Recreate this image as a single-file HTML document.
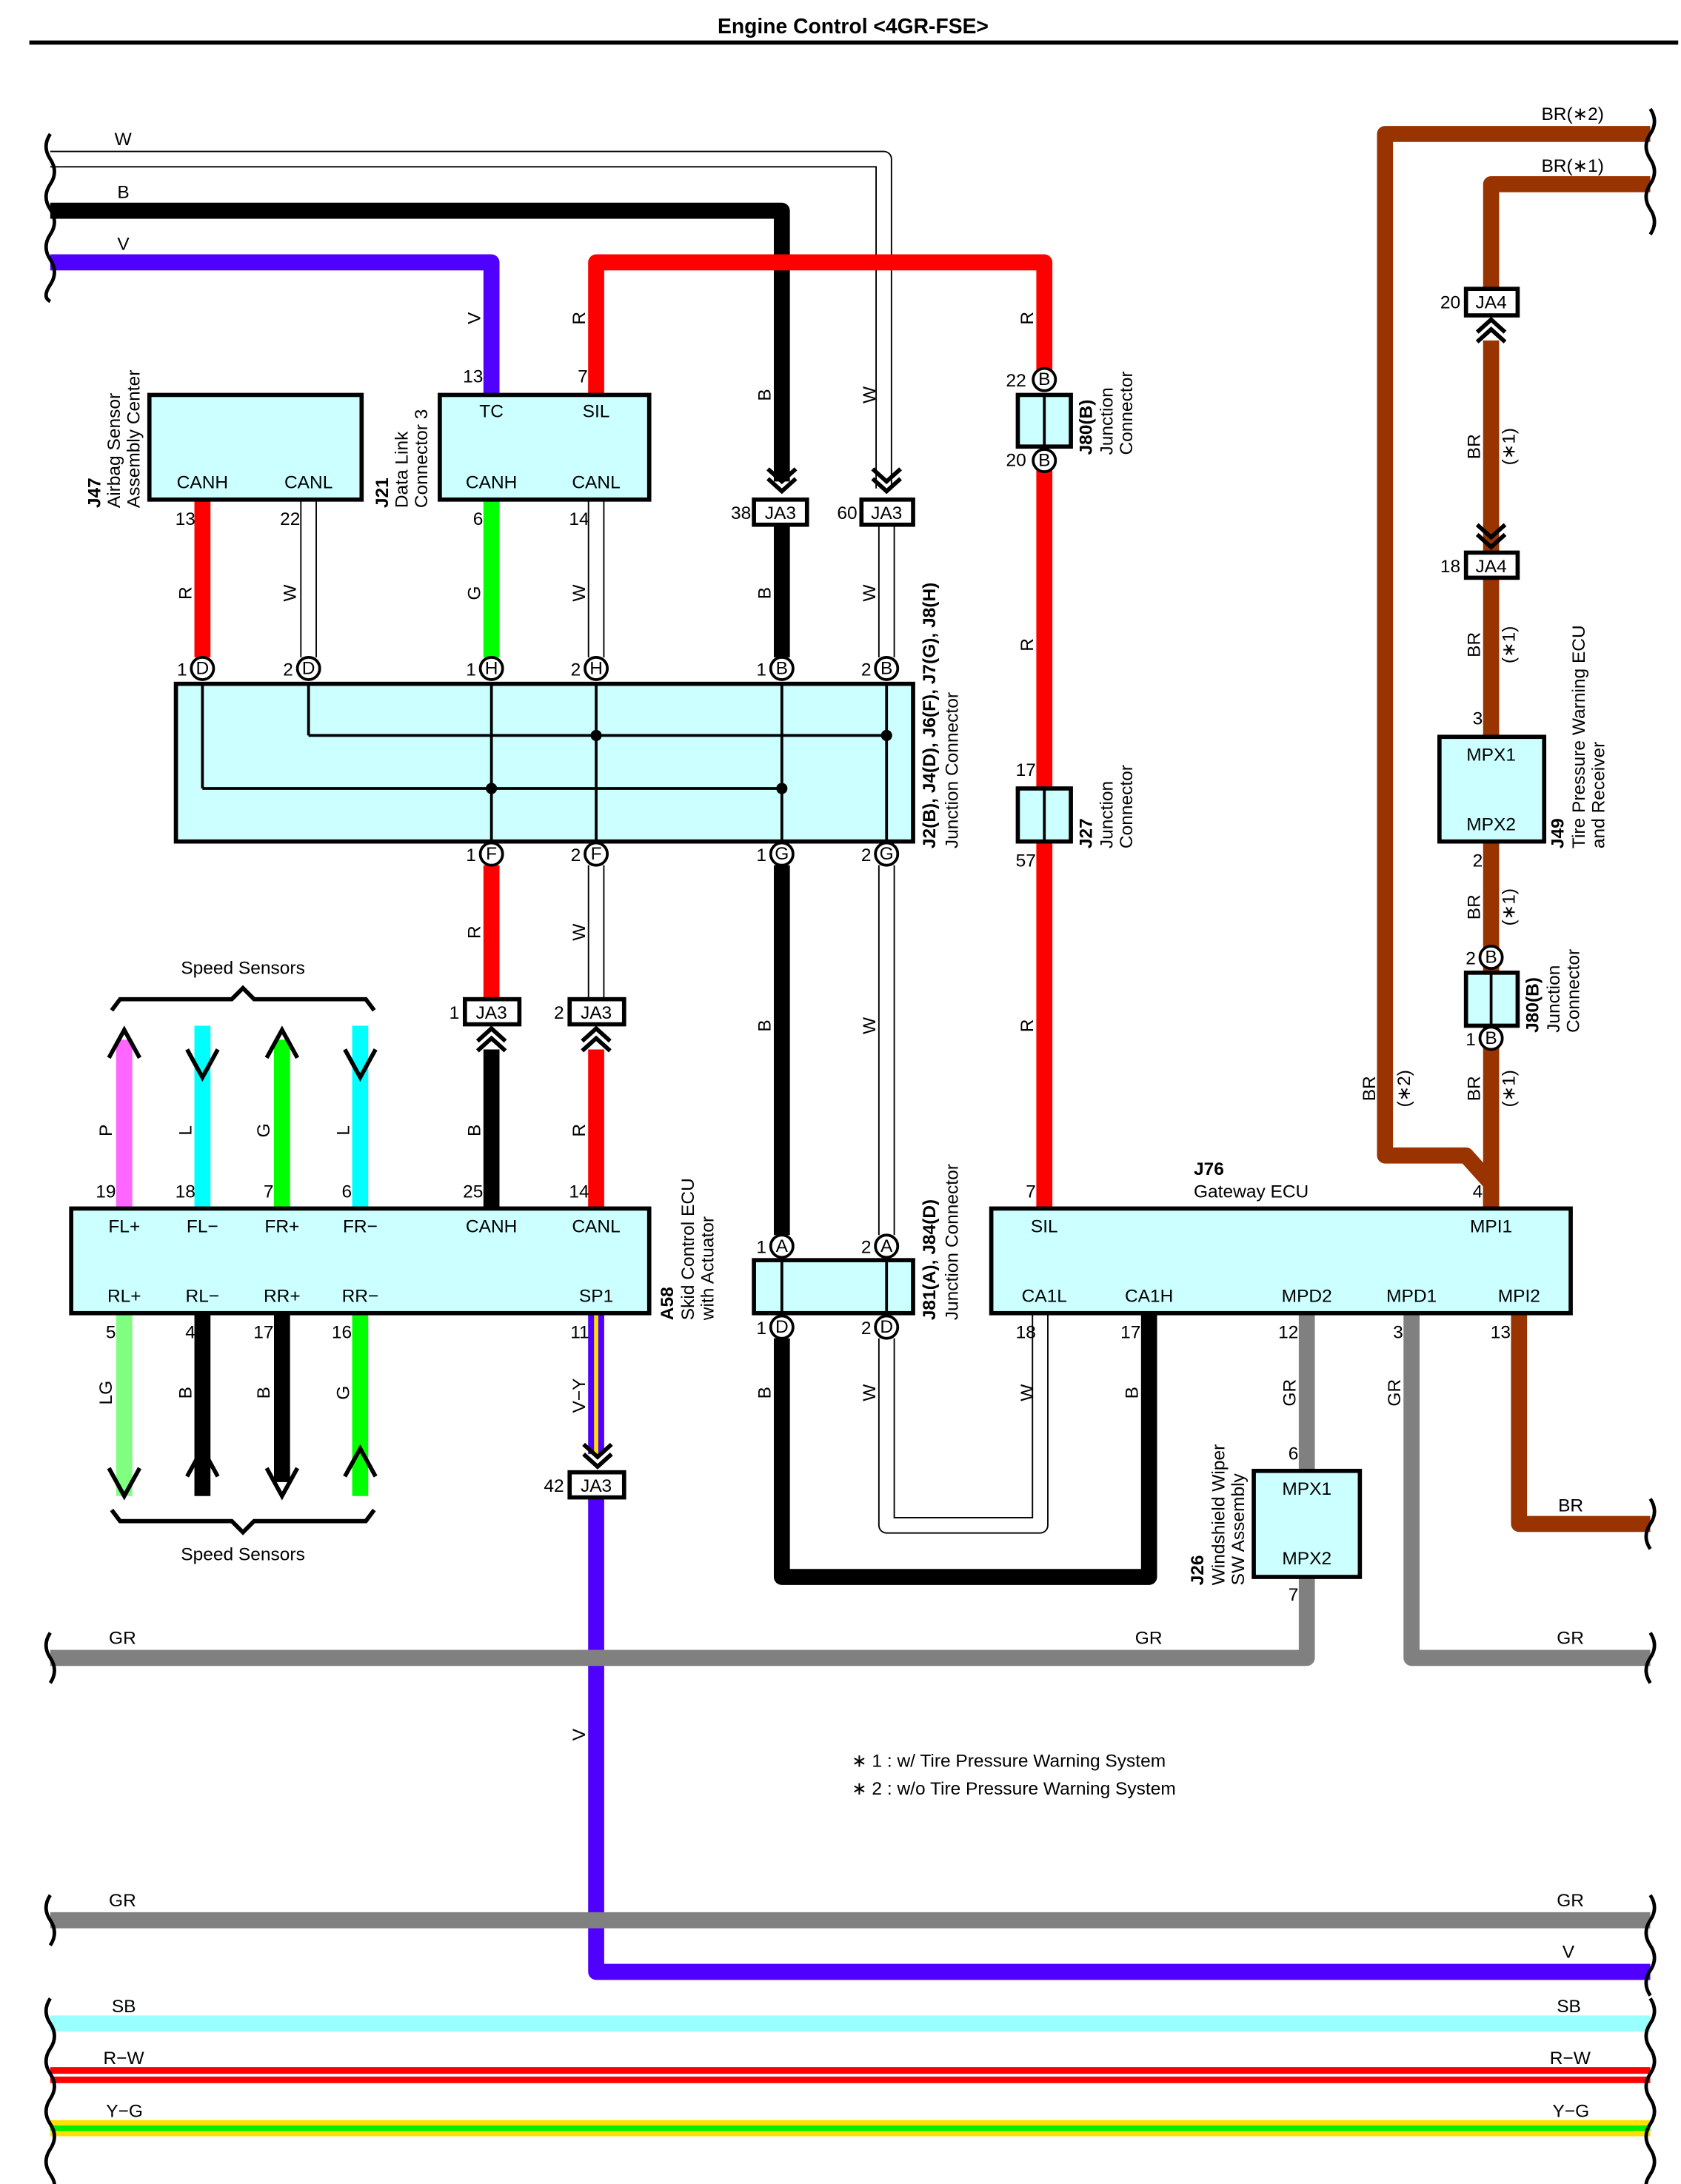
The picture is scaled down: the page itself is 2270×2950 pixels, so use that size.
<!DOCTYPE html>
<html><head><meta charset="utf-8"><style>
html,body{margin:0;padding:0;background:#fff}
svg{display:block}
text{font-family:"Liberation Sans",Arial,sans-serif;font-size:13px;fill:#000}
.c{text-anchor:middle}
.e{text-anchor:end}
.b{font-weight:bold}
</style></head><body>
<svg width="2270" height="2950" viewBox="0 0 1204 1565" preserveAspectRatio="none" xmlns="http://www.w3.org/2000/svg">
<rect width="1204" height="1565" fill="#fff"/>
<text x="611" y="24" class="c b" style="font-size:15px">Engine Control &lt;4GR-FSE&gt;</text>
<rect x="21" y="29" width="1181" height="3" fill="#000"/>

<g fill="none" stroke-linejoin="round">
<path d="M36 114 H633 V350" stroke="#000" stroke-width="12"/>
<path d="M36 114 H633 V350" stroke="#fff" stroke-width="10"/>
<path d="M36 151 H560 V345" stroke="#000" stroke-width="11.5"/>
<path d="M36 188 H352 V283" stroke="#5000ff" stroke-width="11.5"/>
<path d="M427 283 V188 H748 V272" stroke="#f00" stroke-width="11.5"/>
<path d="M1182 96 H992 V828 H1050 L1068 848 V866" stroke="#993300" stroke-width="11.5"/>
<path d="M1182 132 H1068 V207" stroke="#993300" stroke-width="11.5"/>
<path d="M1068 244 V396 M1068 414 V528 M1068 603 V866" stroke="#993300" stroke-width="11.5"/>

<path d="M145 358 V471" stroke="#f00" stroke-width="11.5"/>
<path d="M221 358 V471" stroke="#000" stroke-width="12"/><path d="M221 358 V471" stroke="#fff" stroke-width="10"/>
<path d="M352 358 V471" stroke="#0f0" stroke-width="11.5"/>
<path d="M427 358 V471" stroke="#000" stroke-width="12"/><path d="M427 358 V471" stroke="#fff" stroke-width="10"/>
<path d="M560 376 V471" stroke="#000" stroke-width="11.5"/>
<path d="M635 376 V471" stroke="#000" stroke-width="12"/><path d="M635 376 V471" stroke="#fff" stroke-width="10"/>

<path d="M748 330 V866" stroke="#f00" stroke-width="11.5"/>

<path d="M352 620 V716" stroke="#f00" stroke-width="11.5"/>
<path d="M427 620 V716" stroke="#000" stroke-width="12"/><path d="M427 620 V716" stroke="#fff" stroke-width="10"/>
<path d="M352 752 V866" stroke="#000" stroke-width="11.5"/>
<path d="M427 752 V866" stroke="#f00" stroke-width="11.5"/>
<path d="M560 620 V885" stroke="#000" stroke-width="11.5"/>
<path d="M635 620 V885" stroke="#000" stroke-width="12"/><path d="M635 620 V885" stroke="#fff" stroke-width="10"/>

<path d="M560 959 V1130 H823 V941" stroke="#000" stroke-width="11.5"/>
<path d="M635 959 V1093 H745 V941" stroke="#000" stroke-width="12"/>
<path d="M635 959 V1093 H745 V941" stroke="#fff" stroke-width="10"/>

<path d="M89 866 V745" stroke="#ff66ff" stroke-width="11.5"/>
<path d="M145 866 V735" stroke="#0ff" stroke-width="11.5"/>
<path d="M202 866 V745" stroke="#0f0" stroke-width="11.5"/>
<path d="M258 866 V735" stroke="#0ff" stroke-width="11.5"/>
<path d="M89 941 V1072" stroke="#80ff80" stroke-width="11.5"/>
<path d="M145 941 V1072" stroke="#000" stroke-width="11.5"/>
<path d="M202 941 V1062" stroke="#000" stroke-width="11.5"/>
<path d="M258 941 V1072" stroke="#0f0" stroke-width="11.5"/>

<path d="M427 941 V1042" stroke="#5000ff" stroke-width="11.5"/>
<path d="M427 941 V1042" stroke="#ffdd00" stroke-width="3"/>
<path d="M427 1073 V1413 H1182" stroke="#5000ff" stroke-width="11.5"/>

<path d="M936 941 V1054" stroke="#808080" stroke-width="11.5"/>
<path d="M936 1130 V1188 H36" stroke="#808080" stroke-width="11.5"/>
<path d="M1011 941 V1188 H1182" stroke="#808080" stroke-width="11.5"/>
<path d="M1088 941 V1092 H1182" stroke="#993300" stroke-width="11.5"/>

<path d="M36 1376 H1182" stroke="#808080" stroke-width="11.5"/>
<path d="M36 1450 H1182" stroke="#99ffff" stroke-width="11.5"/>
<path d="M36 1487 H1182" stroke="#f00" stroke-width="11.5"/>
<path d="M36 1487 H1182" stroke="#fff" stroke-width="2"/>
<path d="M36 1525 H1182" stroke="#ffe000" stroke-width="11.5"/>
<path d="M36 1525 H1182" stroke="#00ee00" stroke-width="4"/>
</g>

<g fill="none" stroke="#000" stroke-width="2.5">
<path d="M36 96 q-6 9 0 18 q6 9 0 18 q-6 9 0 18 q6 9 0 18 q-6 9 0 18 q6 9 0 18 q-6 9 0 12"/>
<path d="M1182 78 q6 9 0 18 q-6 9 0 18 q6 9 0 18 q-6 9 0 18 q6 9 0 18"/>
<path d="M1182 1074 q6 9 0 18 q-6 9 0 18"/>
<path d="M1182 1170 q6 9 0 18 q-6 9 0 18"/>
<path d="M36 1170 q-6 9 0 18 q6 9 0 18"/>
<path d="M36 1358 q-6 9 0 18 q6 9 0 18"/>
<path d="M1182 1358 q6 9 0 18 q-6 9 0 18 q6 9 0 18 q-6 9 0 18"/>
<path d="M36 1432 q-6 9 0 18 q6 9 0 18 q-6 9 0 18 q6 9 0 18 q-6 9 0 18 q6 9 0 18 q-6 9 0 18 q6 9 0 12"/>
<path d="M1182 1432 q6 9 0 18 q-6 9 0 18 q6 9 0 18 q-6 9 0 18 q6 9 0 18 q-6 9 0 18 q6 9 0 18 q-6 9 0 12"/>
</g>

<g stroke="#000" stroke-width="3" fill="#ccffff">
<rect x="107" y="283" width="152" height="75"/>
<rect x="315" y="283" width="150" height="75"/>
<rect x="126" y="490" width="528" height="113"/>
<rect x="51" y="866" width="414" height="75"/>
<rect x="540" y="903" width="114" height="38"/>
<rect x="710" y="866" width="415" height="75"/>
<rect x="1031" y="528" width="75" height="75"/>
<rect x="898" y="1054" width="76" height="76"/>
<rect x="729" y="283" width="38" height="37"/>
<rect x="729" y="565" width="38" height="38"/>
<rect x="1050" y="697" width="37" height="38"/>
</g>
<g stroke="#000" stroke-width="2">
<line x1="748" y1="283" x2="748" y2="320"/>
<line x1="748" y1="565" x2="748" y2="603"/>
<line x1="1068" y1="697" x2="1068" y2="735"/>
<line x1="560" y1="903" x2="560" y2="941"/>
<line x1="635" y1="903" x2="635" y2="941"/>
<line x1="145" y1="490" x2="145" y2="565"/>
<line x1="221" y1="490" x2="221" y2="527"/>
<line x1="352" y1="490" x2="352" y2="603"/>
<line x1="427" y1="490" x2="427" y2="603"/>
<line x1="560" y1="490" x2="560" y2="603"/>
<line x1="635" y1="490" x2="635" y2="603"/>
<line x1="221" y1="527" x2="635" y2="527"/>
<line x1="145" y1="565" x2="560" y2="565"/>
</g>
<g fill="#000">
<circle cx="427" cy="527" r="4"/><circle cx="635" cy="527" r="4"/>
<circle cx="352" cy="565" r="4"/><circle cx="560" cy="565" r="4"/>
</g>

<g stroke="#000" stroke-width="3" fill="#fff">
<rect x="540" y="358" width="38" height="18"/>
<rect x="617" y="358" width="37" height="18"/>
<rect x="333" y="716" width="39" height="18"/>
<rect x="408" y="716" width="39" height="18"/>
<rect x="408" y="1055" width="39" height="18"/>
<rect x="1050" y="207" width="37" height="19"/>
<rect x="1050" y="396" width="37" height="18"/>
</g>
<g class="c" style="font-size:12px">
<text x="559" y="372" class="c">JA3</text><text x="635" y="372" class="c">JA3</text>
<text x="352" y="730" class="c">JA3</text><text x="427" y="730" class="c">JA3</text>
<text x="427" y="1069" class="c">JA3</text>
<text x="1068" y="221" class="c">JA4</text><text x="1068" y="410" class="c">JA4</text>
</g>

<g fill="none" stroke="#000" stroke-width="3">
<path d="M550 336 l10 9 l10 -9 M550 343 l10 9 l10 -9"/>
<path d="M625 336 l10 9 l10 -9 M625 343 l10 9 l10 -9"/>
<path d="M418 1035 l10 9 l10 -9 M418 1042 l10 9 l10 -9"/>
<path d="M1058 376 l10 9 l10 -9 M1058 383 l10 9 l10 -9"/>
<path d="M342 746 l10 -9 l10 9 M342 753 l10 -9 l10 9"/>
<path d="M417 746 l10 -9 l10 9 M417 753 l10 -9 l10 9"/>
<path d="M1058 238 l10 -9 l10 9 M1058 245 l10 -9 l10 9"/>
<path d="M78 758 l11 -20 l11 20"/>
<path d="M134 752 l11 20 l11 -20"/>
<path d="M191 758 l11 -20 l11 20"/>
<path d="M247 752 l11 20 l11 -20"/>
<path d="M78 1052 l11 20 l11 -20"/>
<path d="M134 1058 l11 -20 l11 20"/>
<path d="M191 1052 l11 20 l11 -20"/>
<path d="M247 1058 l11 -20 l11 20"/>
<path d="M80 724 l6 -8 H166 l8 -8 l8 8 H262 l6 8"/>
<path d="M80 1082 l6 8 H166 l8 8 l8 -8 H262 l6 -8"/>
</g>

<g stroke="#000" stroke-width="2" fill="#fff">
<circle cx="145" cy="479" r="8"/><circle cx="221" cy="479" r="8"/>
<circle cx="352" cy="479" r="8"/><circle cx="427" cy="479" r="8"/>
<circle cx="560" cy="479" r="8"/><circle cx="635" cy="479" r="8"/>
<circle cx="352" cy="612" r="8"/><circle cx="427" cy="612" r="8"/>
<circle cx="560" cy="612" r="8"/><circle cx="635" cy="612" r="8"/>
<circle cx="560" cy="893" r="8"/><circle cx="635" cy="893" r="8"/>
<circle cx="560" cy="951" r="8"/><circle cx="635" cy="951" r="8"/>
<circle cx="748" cy="272" r="8"/><circle cx="748" cy="330" r="8"/>
<circle cx="1068" cy="686" r="8"/><circle cx="1068" cy="744" r="8"/>
</g>
<g class="c" style="font-size:11px">
<text x="145" y="483" class="c">D</text><text x="221" y="483" class="c">D</text>
<text x="352" y="483" class="c">H</text><text x="427" y="483" class="c">H</text>
<text x="560" y="483" class="c">B</text><text x="635" y="483" class="c">B</text>
<text x="352" y="616" class="c">F</text><text x="427" y="616" class="c">F</text>
<text x="560" y="616" class="c">G</text><text x="635" y="616" class="c">G</text>
<text x="560" y="897" class="c">A</text><text x="635" y="897" class="c">A</text>
<text x="560" y="955" class="c">D</text><text x="635" y="955" class="c">D</text>
<text x="748" y="276" class="c">B</text><text x="748" y="334" class="c">B</text>
<text x="1068" y="690" class="c">B</text><text x="1068" y="748" class="c">B</text>
</g>

<g class="e" style="font-size:12px">
<text x="134" y="484" class="e">1</text><text x="210" y="484" class="e">2</text>
<text x="341" y="484" class="e">1</text><text x="416" y="484" class="e">2</text>
<text x="549" y="484" class="e">1</text><text x="624" y="484" class="e">2</text>
<text x="341" y="617" class="e">1</text><text x="416" y="617" class="e">2</text>
<text x="549" y="617" class="e">1</text><text x="624" y="617" class="e">2</text>
<text x="549" y="898" class="e">1</text><text x="624" y="898" class="e">2</text>
<text x="549" y="956" class="e">1</text><text x="624" y="956" class="e">2</text>
<text x="735" y="277" class="e">22</text><text x="735" y="334" class="e">20</text>
<text x="742" y="556" class="e">17</text><text x="742" y="621" class="e">57</text>
<text x="1057" y="691" class="e">2</text><text x="1057" y="749" class="e">1</text>
<text x="538" y="372" class="e">38</text><text x="614" y="372" class="e">60</text>
<text x="329" y="730" class="e">1</text><text x="404" y="730" class="e">2</text>
<text x="404" y="1069" class="e">42</text>
<text x="1046" y="221" class="e">20</text><text x="1046" y="410" class="e">18</text>
<text x="346" y="274" class="e">13</text><text x="421" y="274" class="e">7</text>
<text x="140" y="376" class="e">13</text><text x="215" y="376" class="e">22</text>
<text x="346" y="376" class="e">6</text><text x="422" y="376" class="e">14</text>
<text x="83" y="858" class="e">19</text><text x="140" y="858" class="e">18</text>
<text x="196" y="858" class="e">7</text><text x="252" y="858" class="e">6</text>
<text x="346" y="858" class="e">25</text><text x="422" y="858" class="e">14</text>
<text x="83" y="959" class="e">5</text><text x="140" y="959" class="e">4</text>
<text x="196" y="959" class="e">17</text><text x="252" y="959" class="e">16</text>
<text x="422" y="959" class="e">11</text>
<text x="742" y="858" class="e">7</text><text x="1062" y="858" class="e">4</text>
<text x="742" y="959" class="e">18</text><text x="817" y="959" class="e">17</text>
<text x="930" y="959" class="e">12</text><text x="1005" y="959" class="e">3</text>
<text x="1082" y="959" class="e">13</text>
<text x="1062" y="519" class="e">3</text><text x="1062" y="621" class="e">2</text>
<text x="930" y="1046" class="e">6</text><text x="930" y="1147" class="e">7</text>
</g>

<g style="font-size:13px">
<text x="145" y="350" class="c">CANH</text><text x="221" y="350" class="c">CANL</text>
<text x="352" y="299" class="c">TC</text><text x="427" y="299" class="c">SIL</text>
<text x="352" y="350" class="c">CANH</text><text x="427" y="350" class="c">CANL</text>
<text x="89" y="883" class="c">FL+</text><text x="145" y="883" class="c">FL−</text>
<text x="202" y="883" class="c">FR+</text><text x="258" y="883" class="c">FR−</text>
<text x="352" y="883" class="c">CANH</text><text x="427" y="883" class="c">CANL</text>
<text x="89" y="933" class="c">RL+</text><text x="145" y="933" class="c">RL−</text>
<text x="202" y="933" class="c">RR+</text><text x="258" y="933" class="c">RR−</text>
<text x="427" y="933" class="c">SP1</text>
<text x="748" y="883" class="c">SIL</text><text x="1068" y="883" class="c">MPI1</text>
<text x="748" y="933" class="c">CA1L</text><text x="823" y="933" class="c">CA1H</text>
<text x="936" y="933" class="c">MPD2</text><text x="1011" y="933" class="c">MPD1</text>
<text x="1088" y="933" class="c">MPI2</text>
<text x="1068" y="545" class="c">MPX1</text><text x="1068" y="595" class="c">MPX2</text>
<text x="936" y="1071" class="c">MPX1</text><text x="936" y="1121" class="c">MPX2</text>
<text x="855" y="842" class="b">J76</text><text x="855" y="858">Gateway ECU</text>
<text x="174" y="698" class="c">Speed Sensors</text>
<text x="174" y="1118" class="c">Speed Sensors</text>
<text x="610" y="1266">∗ 1 : w/ Tire Pressure Warning System</text>
<text x="610" y="1286">∗ 2 : w/o Tire Pressure Warning System</text>
</g>

<g style="font-size:13px">
<text x="82" y="104">W</text><text x="84" y="142">B</text><text x="84" y="179">V</text>
<text x="1104" y="86">BR(∗2)</text><text x="1104" y="123">BR(∗1)</text>
<text x="1116" y="1083">BR</text>
<text x="78" y="1178">GR</text><text x="813" y="1178">GR</text><text x="1115" y="1178">GR</text>
<text x="78" y="1366">GR</text><text x="1115" y="1366">GR</text>
<text x="1119" y="1403">V</text>
<text x="80" y="1442">SB</text><text x="1115" y="1442">SB</text>
<text x="74" y="1479">R−W</text><text x="1110" y="1479">R−W</text>
<text x="76" y="1517">Y−G</text><text x="1112" y="1517">Y−G</text>
</g>

<g style="font-size:13px">
<text transform="translate(344,228) rotate(-90)" class="c">V</text>
<text transform="translate(419,228) rotate(-90)" class="c">R</text>
<text transform="translate(552,283) rotate(-90)" class="c">B</text>
<text transform="translate(627,283) rotate(-90)" class="c">W</text>
<text transform="translate(740,228) rotate(-90)" class="c">R</text>
<text transform="translate(137,425) rotate(-90)" class="c">R</text>
<text transform="translate(212,425) rotate(-90)" class="c">W</text>
<text transform="translate(344,425) rotate(-90)" class="c">G</text>
<text transform="translate(419,425) rotate(-90)" class="c">W</text>
<text transform="translate(552,425) rotate(-90)" class="c">B</text>
<text transform="translate(627,425) rotate(-90)" class="c">W</text>
<text transform="translate(740,462) rotate(-90)" class="c">R</text>
<text transform="translate(344,668) rotate(-90)" class="c">R</text>
<text transform="translate(419,668) rotate(-90)" class="c">W</text>
<text transform="translate(552,735) rotate(-90)" class="c">B</text>
<text transform="translate(627,735) rotate(-90)" class="c">W</text>
<text transform="translate(740,735) rotate(-90)" class="c">R</text>
<text transform="translate(344,810) rotate(-90)" class="c">B</text>
<text transform="translate(419,810) rotate(-90)" class="c">R</text>
<text transform="translate(80,810) rotate(-90)" class="c">P</text>
<text transform="translate(137,810) rotate(-90)" class="c">L</text>
<text transform="translate(193,810) rotate(-90)" class="c">G</text>
<text transform="translate(250,810) rotate(-90)" class="c">L</text>
<text transform="translate(80,998) rotate(-90)" class="c">LG</text>
<text transform="translate(137,998) rotate(-90)" class="c">B</text>
<text transform="translate(193,998) rotate(-90)" class="c">B</text>
<text transform="translate(250,998) rotate(-90)" class="c">G</text>
<text transform="translate(419,1000) rotate(-90)" class="c">V−Y</text>
<text transform="translate(419,1243) rotate(-90)" class="c">V</text>
<text transform="translate(552,998) rotate(-90)" class="c">B</text>
<text transform="translate(627,998) rotate(-90)" class="c">W</text>
<text transform="translate(740,998) rotate(-90)" class="c">W</text>
<text transform="translate(815,998) rotate(-90)" class="c">B</text>
<text transform="translate(928,998) rotate(-90)" class="c">GR</text>
<text transform="translate(1003,998) rotate(-90)" class="c">GR</text>
<text transform="translate(1060,320) rotate(-90)" class="c">BR</text>
<text transform="translate(1085,320) rotate(-90)" class="c">(∗1)</text>
<text transform="translate(1060,462) rotate(-90)" class="c">BR</text>
<text transform="translate(1085,462) rotate(-90)" class="c">(∗1)</text>
<text transform="translate(1060,650) rotate(-90)" class="c">BR</text>
<text transform="translate(1085,650) rotate(-90)" class="c">(∗1)</text>
<text transform="translate(1060,780) rotate(-90)" class="c">BR</text>
<text transform="translate(1085,780) rotate(-90)" class="c">(∗1)</text>
<text transform="translate(985,780) rotate(-90)" class="c">BR</text>
<text transform="translate(1010,780) rotate(-90)" class="c">(∗2)</text>
</g>

<g style="font-size:13px">
<text transform="translate(72,364) rotate(-90)"><tspan class="b">J47</tspan></text>
<text transform="translate(86,364) rotate(-90)">Airbag Sensor</text>
<text transform="translate(100,364) rotate(-90)">Assembly Center</text>
<text transform="translate(278,364) rotate(-90)"><tspan class="b">J21</tspan></text>
<text transform="translate(292,364) rotate(-90)">Data Link</text>
<text transform="translate(306,364) rotate(-90)">Connector 3</text>
<text transform="translate(670,608) rotate(-90)" class="b">J2(B), J4(D), J6(F), J7(G), J8(H)</text>
<text transform="translate(686,608) rotate(-90)">Junction Connector</text>
<text transform="translate(782,326) rotate(-90)" class="b">J80(B)</text>
<text transform="translate(797,326) rotate(-90)">Junction</text>
<text transform="translate(811,326) rotate(-90)">Connector</text>
<text transform="translate(782,608) rotate(-90)" class="b">J27</text>
<text transform="translate(797,608) rotate(-90)">Junction</text>
<text transform="translate(811,608) rotate(-90)">Connector</text>
<text transform="translate(670,946) rotate(-90)" class="b">J81(A), J84(D)</text>
<text transform="translate(686,946) rotate(-90)">Junction Connector</text>
<text transform="translate(482,946) rotate(-90)" class="b">A58</text>
<text transform="translate(497,946) rotate(-90)">Skid Control ECU</text>
<text transform="translate(511,946) rotate(-90)">with Actuator</text>
<text transform="translate(1120,608) rotate(-90)" class="b">J49</text>
<text transform="translate(1135,608) rotate(-90)">Tire Pressure Warning ECU</text>
<text transform="translate(1149,608) rotate(-90)">and Receiver</text>
<text transform="translate(1102,740) rotate(-90)" class="b">J80(B)</text>
<text transform="translate(1117,740) rotate(-90)">Junction</text>
<text transform="translate(1131,740) rotate(-90)">Connector</text>
<text transform="translate(862,1136) rotate(-90)" class="b">J26</text>
<text transform="translate(877,1136) rotate(-90)">Windshield Wiper</text>
<text transform="translate(891,1136) rotate(-90)">SW Assembly</text>
</g>
</svg>
</body></html>
